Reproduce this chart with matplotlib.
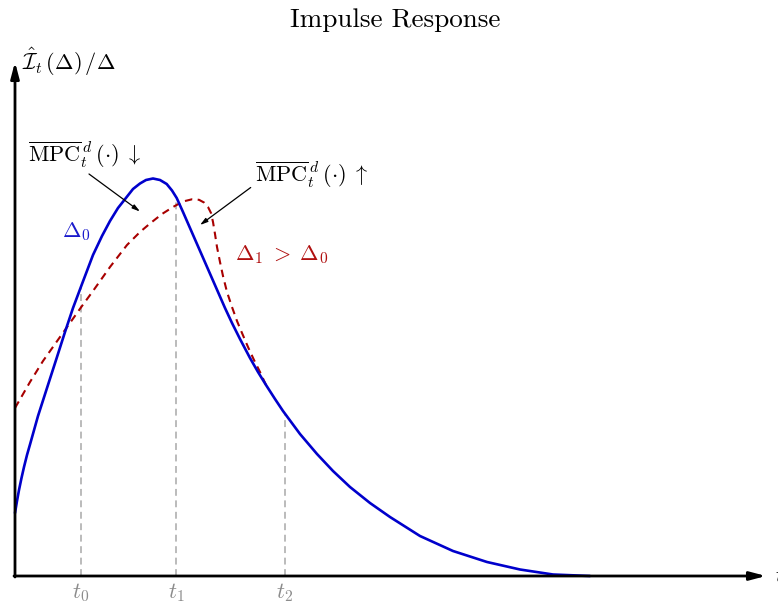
import numpy as np
import matplotlib
matplotlib.use("Agg")
import matplotlib.pyplot as plt

plt.rcParams["mathtext.fontset"] = "cm"

# Impulse response for the baseline shock size (Delta_0)
t_base = [0.00, 0.02, 0.04, 0.065, 0.09, 0.12, 0.15, 0.23, 0.32, 0.42,
          0.50, 0.58, 0.67, 0.78, 0.87, 0.95, 1.03, 1.117, 1.18, 1.25,
          1.31, 1.38, 1.45, 1.517, 1.57, 1.617, 1.68, 1.75, 1.82, 1.89,
          1.96, 2.03, 2.10, 2.17, 2.25, 2.35, 2.43, 2.51, 2.60, 2.68,
          2.85, 3.02, 3.18, 3.35, 3.55, 3.75, 4.05, 4.38, 4.72, 5.05,
          5.38, 5.75]
y_base = [0.63, 0.75, 0.86, 0.98, 1.09, 1.21, 1.315, 1.60, 1.88, 2.19,
          2.44, 2.68, 2.92, 3.21, 3.40, 3.55, 3.68, 3.79, 3.87, 3.925,
          3.96, 3.975, 3.96, 3.92, 3.855, 3.78, 3.64, 3.48, 3.32, 3.16,
          3.00, 2.84, 2.68, 2.53, 2.37, 2.18, 2.04, 1.91, 1.77, 1.65,
          1.42, 1.22, 1.05, 0.89, 0.73, 0.59, 0.40, 0.25, 0.14, 0.065,
          0.015, 0.00]

# Impulse response for the larger shock (Delta_1 > Delta_0)
t_large = [0.00, 0.15, 0.28, 0.45, 0.67, 0.78, 0.95, 1.12, 1.25, 1.35,
           1.47, 1.58, 1.68, 1.77, 1.84, 1.89, 1.93, 1.96, 1.98, 2.00,
           2.02, 2.05, 2.08, 2.12, 2.17, 2.22, 2.27, 2.33, 2.39, 2.45,
           2.51]
y_large = [1.68, 1.94, 2.15, 2.39, 2.70, 2.85, 3.09, 3.31, 3.44, 3.525,
           3.62, 3.69, 3.745, 3.767, 3.762, 3.735, 3.69, 3.63, 3.54, 3.42,
           3.29, 3.14, 3.00, 2.84, 2.69, 2.55, 2.43, 2.29, 2.16, 2.04,
           1.91]

# Reference dates marked on the time axis
tick_times = [0.66, 1.61, 2.70]
tick_labels = [r"$t_0$", r"$t_1$", r"$t_2$"]

BLUE = "#0000CC"
RED = "#A80000"
GREY = "#A8A8A8"

fig = plt.figure(figsize=(7.78, 6.04), dpi=100)
ax = fig.add_axes([0, 0, 1, 1])
ax.set_xlim(-0.15, 7.63)
ax.set_ylim(-0.28, 5.76)
ax.axis("off")

# Vertical guides up to the baseline response
guide_tops = np.interp(tick_times, t_base, y_base)
for tt, top, lab in zip(tick_times, guide_tops, tick_labels):
    ax.plot([tt, tt], [0, top], color=GREY, lw=1.1, dashes=(4.5, 3.0), zorder=1)
    ax.text(tt, -0.165, lab, color="#8c8c8c", fontsize=16,
            ha="center", va="center")

ax.plot(t_large, y_large, color=RED, lw=1.5, dashes=(3.6, 2.6), zorder=2,
        dash_joinstyle="round")
ax.plot(t_base, y_base, color=BLUE, lw=1.9, zorder=3,
        solid_capstyle="round", solid_joinstyle="round")

# Coordinate axes with arrow heads
axis_kw = dict(arrowstyle="-|>,head_length=0.95,head_width=0.25",
               color="black", lw=2.0, shrinkA=0, shrinkB=0)
ax.annotate("", xy=(7.51, 0), xytext=(-0.01, 0), arrowprops=axis_kw, zorder=4)
ax.annotate("", xy=(0, 5.14), xytext=(0, -0.01), arrowprops=axis_kw, zorder=4)

ax.text(7.60, 0.0, r"$t$", fontsize=16, ha="left", va="center")
ax.text(0.07, 5.06, r"$\hat{\mathcal{I}}_t\,(\Delta)\,/\Delta$", fontsize=16,
        ha="left", va="baseline")

ax.text(3.80, 5.49, "Impulse Response", fontsize=19.5, family="cmr10",
        ha="center", va="baseline")

# Annotations on the two responses
arrow_kw = dict(arrowstyle="-|>,head_length=0.45,head_width=0.13",
                color="black", lw=0.9, shrinkA=0, shrinkB=0)
ax.text(0.13, 4.14, r"$\overline{\mathrm{MPC}}_t^{\,d}\,(\cdot)\;\downarrow$",
        fontsize=16, ha="left", va="baseline")
ax.annotate("", xy=(1.25, 3.645), xytext=(0.74, 4.02), arrowprops=arrow_kw)

ax.text(2.40, 3.94, r"$\overline{\mathrm{MPC}}_t^{\,d}\,(\cdot)\;\uparrow$",
        fontsize=16, ha="left", va="baseline")
ax.annotate("", xy=(1.85, 3.51), xytext=(2.357, 3.885), arrowprops=arrow_kw)

ax.text(0.465, 3.39, r"$\Delta_0$", color="#1a1acc", fontsize=16,
        ha="left", va="baseline")
ax.text(2.20, 3.16, r"$\Delta_1\;>\;\Delta_0$", color="#B01010", fontsize=16,
        ha="left", va="baseline")

fig.savefig("out.png", dpi=100)
